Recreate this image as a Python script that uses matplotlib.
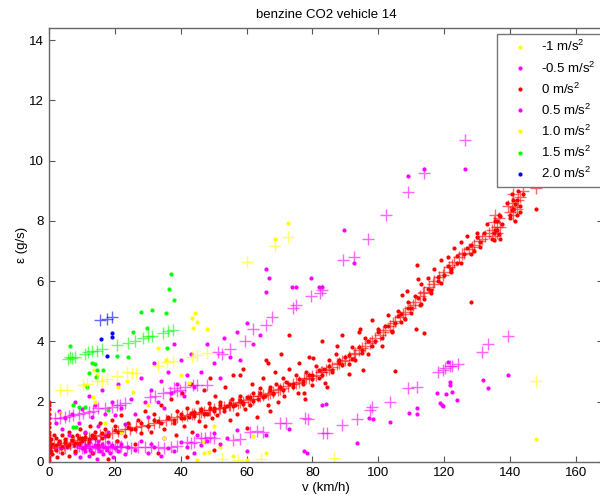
import matplotlib
matplotlib.use('Agg')
import matplotlib.pyplot as plt
import numpy as np

plt.rcParams['font.family'] = ['Liberation Sans', 'DejaVu Sans']
plt.rcParams['mathtext.fontset'] = 'custom'
plt.rcParams['mathtext.rm'] = 'Liberation Sans'
plt.rcParams['mathtext.default'] = 'regular'

# Data: (v km/h, emission g/s)
labels = ['-1 m/s$^2$', '-0.5 m/s$^2$', '0 m/s$^2$', '0.5 m/s$^2$',
          '1.0 m/s$^2$', '1.5 m/s$^2$', '2.0 m/s$^2$']
colors = ['#FFFF00', '#FF00FF', '#FF0000', '#FF00FF', '#FFFF00', '#00FF00', '#0000FF']

# a = -1 m/s2
dec1_dots = [(45, 0.05), (47, 0.3), (52, 0.5), (55.9, 0.2), (60, 0.05), (62, 0.85),
             (66, 0.3), (148, 0.76)]
dec1_plus = [(52.5, 0.1), (57.5, 0.08), (64.5, 0.1), (86.6, 0.12), (148, 2.68)]

# a = -0.5 m/s2
dec05_dots = [(8, 0.3), (9, 0.6), (9.5, 0.15), (10, 0.45), (10.5, 0.75), (11, 0.35), (11.5, 0.55),
              (12, 0.2), (12, 0.65), (12.5, 0.4), (13, 0.8), (13.5, 0.3), (14, 0.55), (14.5, 0.1),
              (15, 0.45), (15, 0.7), (15.5, 0.35), (16, 0.6), (16.5, 0.25), (17, 0.5), (17, 0.85),
              (17.5, 0.4), (18, 0.65), (18.5, 0.3), (19, 0.55), (19.5, 0.15), (20, 0.45), (20.5, 0.7),
              (21, 0.35), (22, 0.6), (23, 0.25), (24, 0.5), (26, 0.4), (28, 0.7), (30, 0.3),
              (31, 0.6), (32, 0.5), (34, 0.2), (35, 0.8), (36, 0.45), (38, 0.35), (40, 0.65),
              (42, 0.5), (44, 0.3), (45, 0.9), (46, 0.55), (48, 0.7), (50, 0.95), (52, 0.6),
              (54, 0.8), (57, 1.05), (60, 0.35), (66, 0.9), (73, 1.1), (77.4, 0.37), (78.4, 0.29),
              (83, 1.9), (84, 1.92), (93.6, 0.62), (97.2, 1.45), (98.4, 1.43), (103.5, 1.32),
              (109.3, 1.62), (111.8, 1.78), (111.8, 1.6), (117.8, 2.28), (118.7, 1.96), (119.3, 1.9),
              (119.7, 1.85), (120.5, 2.25), (121, 3.33), (121.7, 2.66), (121.8, 2.55), (122.3, 2.33),
              (123.9, 2.05), (131.7, 2.72), (133.3, 2.45), (139.3, 2.89)]
dec05_plus = [(3, 0.45), (5, 0.48), (8.5, 0.5), (9, 0.52), (10, 0.48), (10.5, 0.47), (11, 0.52),
              (12, 0.5), (12.5, 0.53), (13, 0.47), (14, 0.52), (14.5, 0.49), (15, 0.5), (16, 0.48),
              (16.5, 0.51), (17, 0.53), (18, 0.5), (18.5, 0.47), (19, 0.49), (20, 0.52), (20.5, 0.5),
              (21.5, 0.5), (22, 0.53), (23.6, 0.5), (25, 0.48), (27, 0.5), (29, 0.49), (31, 0.51),
              (33, 0.5), (35, 0.48), (37, 0.5), (38.8, 0.52), (42, 0.66), (43, 0.62), (44, 0.66),
              (46, 0.8), (47.5, 0.78), (49, 0.82), (50, 0.8), (56, 0.73), (58, 0.75), (61, 1.0),
              (63, 1.02), (65, 1.0), (70, 1.29), (72, 1.3), (77.7, 1.45), (78.5, 1.42), (83.3, 0.97),
              (84.3, 0.97), (88.9, 1.23), (93.6, 1.42), (97.4, 1.72), (98, 1.83), (103.5, 2.0),
              (109, 2.45), (111.8, 2.5), (118.2, 3.0), (119.5, 3.05), (120.2, 3.11), (121.7, 3.18),
              (122.5, 3.2), (124.2, 3.25), (131.5, 3.64), (133.3, 3.9), (139.3, 4.19)]

# a = 0 m/s2
cruise_dots = [(0, 0.05), (0, 0.15), (0, 0.3), (0, 0.4), (0, 0.6), (0, 0.7), (0, 0.8), (0, 0.9),
               (0, 1.0), (0, 1.15), (0, 1.3), (0, 1.45), (0, 1.6), (0, 1.75), (0, 1.9), (0, 2.0),
               (0.3, 0.5), (0.5, 0.35), (0.5, 0.75), (1, 0.25), (1, 0.6), (1.5, 0.9), (2, 0.4),
               (2, 0.8), (2.5, 0.15), (3, 0.7), (3.5, 0.45), (4, 0.9), (4, 0.3), (5, 0.75),
               (5.5, 0.5), (6, 0.2), (6, 1.0), (7, 0.85), (7.5, 0.55), (8, 0.35), (8.5, 0.9),
               (9, 0.6), (9.5, 1.1), (10, 0.8), (10.5, 0.45), (11, 0.95), (12, 0.65), (12.5, 1.2),
               (13, 0.3), (13.5, 0.85), (14, 1.0), (15, 0.55), (15.5, 1.3), (16, 0.8), (17, 1.1),
               (18, 0.1), (18, 0.9), (19, 1.4), (20, 1.2), (20.5, 0.7), (21, 1.0), (22, 1.55),
               (23, 0.85), (24, 1.3), (25, 1.1), (26, 0.6), (27, 1.4), (28, 0.95), (29, 1.7),
               (30, 1.2), (31, 1.0), (32, 1.6), (33, 0.3), (33, 1.35), (34, 1.9), (35, 1.1),
               (36, 1.5), (37, 2.1), (38, 1.3), (38.5, 0.9), (39, 1.7), (40, 1.45), (40.5, 2.3),
               (41, 1.2), (42, 1.8), (42, 0.17), (42.5, 1.5), (43, 2.6), (43.5, 1.0), (44, 1.65),
               (45, 2.0), (45.5, 1.35), (46, 1.75), (47, 2.4), (47.5, 1.2), (48, 1.6), (48.5, 1.95),
               (49, 2.8), (49.5, 1.45), (50, 1.8), (50, 0.4), (50.5, 2.2), (51, 1.55), (52, 2.0),
               (53, 1.7), (53.5, 2.5), (54, 1.85), (55, 1.4), (55.5, 2.1), (56, 2.9), (56.5, 1.9),
               (57, 1.6), (58, 2.2), (58, 2.9), (58.5, 2.0), (59, 3.1), (59.5, 1.75), (60, 2.15),
               (60, 1.13), (61, 1.9), (61.5, 2.6), (62, 2.3), (63, 1.5), (63.5, 2.1), (64, 2.45),
               (65, 2.8), (65.5, 2.2), (66, 3.4), (66.5, 1.9), (66.5, 3.3), (67, 2.5), (67, 1.7),
               (68, 2.3), (68.5, 3.0), (69, 2.6), (69.5, 2.0), (70, 2.5), (70.5, 3.6), (71, 2.8),
               (71.5, 2.2), (72, 2.65), (73, 4.2), (73, 3.1), (74, 2.6), (75, 2.9), (75.5, 2.3),
               (76, 3.3), (77, 2.7), (77.4, 2.3), (77.7, 2.1), (78, 3.0), (79, 3.5), (79.8, 2.55),
               (80, 2.9), (80.2, 3.45), (81, 3.2), (82, 2.8), (82.9, 4.01), (83.5, 3.1), (83.8, 2.62),
               (84.4, 2.5), (85, 3.4), (86, 3.0), (87, 3.6), (87.4, 3.85), (88, 3.3), (89, 4.2),
               (90, 3.5), (91, 2.92), (91, 3.25), (92, 3.8), (93, 3.4), (94, 4.3), (94.4, 4.41),
               (95, 3.7), (95.3, 3.05), (96, 4.1), (97, 3.6), (98, 4.71), (99, 4.0), (100, 4.4),
               (101, 3.85), (102, 4.5), (103, 4.88), (104, 4.3), (105, 3.02), (105, 4.6), (106, 5.01),
               (107, 4.9), (107.2, 5.54), (108, 4.75), (108.7, 5.67), (109, 5.3), (110, 5.1),
               (111, 5.5), (111.4, 4.4), (111.6, 6.54), (112, 6.07), (112.5, 5.2), (113, 5.9),
               (114, 5.4), (114, 4.28), (115, 6.1), (116, 5.7), (117, 6.4), (118, 6.0), (119, 6.7),
               (120, 6.2), (121, 6.8), (122, 6.4), (123, 7.1), (124, 6.6), (125, 7.3), (126, 6.9),
               (127, 7.5), (128, 5.3), (128, 7.2), (129, 7.0), (130, 7.6), (131, 7.3), (133, 7.9),
               (134.5, 7.4), (135, 7.6), (135.5, 8.0), (136, 7.7), (136.5, 8.2), (137, 7.4),
               (137.5, 7.9), (139, 8.6), (140, 8.2), (140.5, 8.9), (141, 8.4), (141.5, 8.0),
               (142, 8.7), (143, 8.3), (144, 8.9), (145, 9.2), (148, 8.4),
               # tight band along the trend
               (2, 0.55), (3, 0.62), (4, 0.5), (5, 0.68), (6, 0.58), (7, 0.72), (8, 0.62), (9, 0.8),
               (10, 0.7), (11, 0.82), (12, 0.76), (13, 0.9), (14, 0.8), (16, 0.95), (18, 0.85),
               (20, 1.05), (22, 0.98), (24, 1.15), (26, 1.08), (28, 1.28), (30, 1.18), (32, 1.38),
               (34, 1.3), (36, 1.45), (38, 1.38), (40, 1.58), (41, 1.45), (43, 1.62), (44, 1.52),
               (46, 1.72), (47, 1.6), (49, 1.78), (50, 1.68), (52, 1.88), (53, 1.78), (55, 1.95),
               (56, 1.85), (58, 2.05), (59, 1.92), (61, 2.15), (62, 2.02), (64, 2.28), (65, 2.15),
               (67, 2.38), (68, 2.25), (70, 2.5), (71, 2.38), (73, 2.6), (74, 2.5), (76, 2.75),
               (77, 2.6), (79, 2.9), (80, 2.75), (82, 3.05), (83, 2.9), (85, 3.2), (86, 3.05),
               (88, 3.38), (89, 3.22), (91, 3.55), (92, 3.42), (94, 3.8), (95, 3.62), (97, 4.0),
               (98, 3.85), (100, 4.3), (101, 4.1), (103, 4.5), (104, 4.35), (106, 4.85), (107, 4.65),
               (109, 5.1), (110, 4.95), (112, 5.45), (113, 5.25), (115, 5.75), (116, 5.6), (118, 6.15),
               (119, 5.95), (121, 6.5), (122, 6.3), (124, 6.85), (125, 6.6), (127, 7.1), (128, 6.9),
               (130, 7.45), (131, 7.15), (132, 7.6), (135, 7.35), (135.5, 7.7), (136, 8.0),
               (136.5, 7.55), (137, 8.15), (140, 8.1), (140.5, 8.35), (141, 8.7), (141.5, 8.55),
               (142, 8.2), (142.5, 9.0), (143, 8.5)]
cruise_plus = [(0, 0.45), (0, 0.6), (0.5, 0.52), (1.5, 0.55), (2.5, 0.5), (3.5, 0.58), (4.5, 0.55),
               (5.5, 0.62), (6.5, 0.6), (7.5, 0.68), (8.5, 0.66), (9.5, 0.72), (11, 0.74), (12, 0.8),
               (14, 0.86), (15.5, 0.88), (17, 0.93), (19, 0.96), (21, 1.02), (23, 1.08), (24.5, 1.1),
               (26.5, 1.16), (28, 1.2), (30, 1.24), (32, 1.31), (33.5, 1.34), (35.5, 1.4), (37, 1.43),
               (39, 1.48), (40.5, 1.52), (42, 1.55), (43.5, 1.58), (44, 1.6), (45.5, 1.64), (46, 1.66),
               (47, 1.67), (48.5, 1.72), (49, 1.74), (50, 1.76), (51.5, 1.78), (52, 1.8), (53, 1.84),
               (54.5, 1.88), (55, 1.9), (56, 1.9), (57.5, 1.96), (58, 1.98), (59, 2.0), (60.5, 2.06),
               (61, 2.08), (62, 2.1), (63.5, 2.18), (64, 2.2), (65, 2.22), (66.5, 2.27), (67, 2.3),
               (68, 2.32), (69.5, 2.38), (70, 2.42), (71, 2.45), (72.5, 2.52), (74, 2.6), (75, 2.62),
               (76, 2.66), (77.5, 2.74), (78, 2.78), (79, 2.8), (80, 2.85), (81, 2.9), (82.5, 2.98),
               (83, 3.0), (84, 3.05), (85, 3.1), (86, 3.16), (87.5, 3.25), (88, 3.3), (89, 3.35),
               (90, 3.4), (91, 3.47), (92.5, 3.58), (93, 3.62), (94, 3.7), (95, 3.78), (96, 3.85),
               (97.5, 3.96), (98, 4.0), (99, 4.1), (100.5, 4.22), (101.5, 4.3), (102, 4.37),
               (103.5, 4.5), (104.5, 4.6), (105, 4.68), (106.5, 4.82), (107.5, 4.9), (108, 4.97),
               (109.5, 5.12), (110.5, 5.2), (111, 5.3), (112.5, 5.5), (113.5, 5.6), (114, 5.65),
               (115.5, 5.82), (116.5, 5.9), (117, 6.0), (118.5, 6.15), (119.5, 6.2), (120, 6.32),
               (121.5, 6.48), (122.5, 6.55), (123, 6.62), (124.5, 6.8), (125.5, 6.9), (126, 6.95),
               (127.5, 7.08), (128.5, 7.15), (129, 7.2), (130.5, 7.32), (131.5, 7.4), (132.5, 7.5),
               (133.5, 7.6), (134.5, 7.7), (135, 7.95), (135.5, 8.2), (135.5, 7.5), (136, 7.6),
               (136, 7.8), (136.5, 8.1), (137, 7.8), (139.5, 8.5), (140, 8.3), (140.5, 8.6),
               (141, 8.9), (141, 8.2), (141.5, 8.45), (142, 8.4), (142.5, 8.7), (143, 8.8),
               (144, 9.0), (148, 9.1)]

# a = 0.5 m/s2
acc05_dots = [(2, 1.3), (3, 1.7), (4, 1.1), (5, 1.45), (6, 0.9), (7, 1.6), (8, 2.0), (9, 1.3),
              (10, 1.75), (11, 1.0), (12, 2.2), (13, 1.5), (14, 1.9), (15, 1.2), (16, 2.4), (17, 1.6),
              (18, 1.0), (19, 2.0), (20, 1.55), (21, 2.6), (22, 1.8), (23, 1.25), (25, 2.1), (26, 1.6),
              (28, 2.8), (29, 2.0), (30, 1.5), (31, 2.4), (32, 3.3), (33, 2.0), (34, 2.7), (35, 1.8),
              (36, 3.0), (37, 2.3), (38, 3.9), (39, 2.6), (40, 3.4), (41, 2.2), (42, 2.9), (43, 3.6),
              (44, 2.5), (46, 3.0), (48, 3.9), (50, 3.3), (52, 2.8), (53, 4.1), (55, 3.5), (57, 4.3),
              (58, 3.4), (60, 4.6), (62, 3.9), (64, 4.2), (66, 6.4), (66.8, 6.1), (65.9, 5.65),
              (73.8, 5.8), (75, 5.8), (79.5, 6.1), (82, 5.8), (83, 5.8), (89.6, 7.7), (92.6, 6.6),
              (108.9, 9.5), (113.8, 9.73), (126.3, 9.73)]
acc05_plus = [(1.8, 1.46), (3.3, 1.46), (5, 1.5), (6, 1.52), (7.3, 1.56), (9, 1.58), (10.3, 1.62),
              (12, 1.66), (13.5, 1.7), (15, 1.78), (17, 1.8), (19, 1.83), (20.5, 1.88), (21.6, 1.9),
              (23, 1.95), (30.7, 2.16), (32.2, 2.2), (34.6, 2.28), (36.7, 2.32), (38.8, 2.36),
              (37.8, 2.45), (39.8, 2.4), (41.3, 2.48), (43.7, 2.55), (45, 2.55), (48, 2.55),
              (51.3, 3.65), (52.5, 3.6), (55, 3.75), (59.5, 4.0), (62, 4.4), (66, 4.55), (67.7, 4.8),
              (74, 5.1), (75, 5.2), (79.5, 5.5), (82.3, 5.6), (83, 5.7), (89.4, 6.7), (92.6, 6.8),
              (97, 7.4), (102.3, 8.2), (108.9, 8.95), (113.8, 9.6), (126.3, 10.7)]

# a = 1.0 m/s2
acc10_dots = [(3.3, 1.63), (10.9, 2.55), (13.4, 2.17), (13.7, 3.05), (14, 2.0), (14.6, 2.88),
              (17, 1.3), (21, 2.49), (22, 1.0), (23.6, 2.69), (25.5, 2.33), (30, 1.9), (33.2, 3.78),
              (35, 0.8), (35.5, 3.38), (40, 2.9), (42.5, 2.63), (43.4, 4.78), (43.7, 4.45),
              (44.4, 4.95), (44.9, 4.65), (46.8, 0.66), (48, 4.4), (48.6, 0.33), (50, 1.2),
              (68.6, 7.4), (72.5, 7.93)]
acc10_plus = [(3.3, 2.39), (5.5, 2.4), (10.4, 2.55), (11.5, 2.6), (14.5, 2.69), (16, 2.69),
              (17.5, 2.75), (20.6, 2.86), (23.6, 2.98), (25.1, 2.95), (26.5, 2.95), (33.2, 3.19),
              (35.7, 3.32), (37.7, 3.35), (43.3, 3.49), (44.8, 3.55), (47.9, 3.62), (60, 6.65),
              (68.6, 7.17), (72.5, 7.46)]

# a = 1.5 m/s2
acc15_dots = [(6.4, 3.85), (7.2, 1.9), (7.3, 1.16), (8.2, 1.16), (9.1, 1.83), (11, 1.83),
              (11.5, 2.5), (12.2, 2.95), (13, 3.28), (14, 3.24), (14.3, 2.83), (14.6, 3.05),
              (16.3, 3.05), (18, 1.72), (20.6, 3.52), (23.9, 3.48), (25.6, 4.3), (27.8, 4.98),
              (29.9, 4.45), (31.3, 5.04), (35.4, 4.94), (35.7, 3.78), (36.5, 5.74), (37, 6.24),
              (38, 5.38)]
acc15_plus = [(5.8, 3.41), (6.4, 3.49), (7, 3.45), (8, 3.48), (11, 3.6), (11.8, 3.66), (13, 3.68),
              (14.5, 3.69), (16, 3.75), (20.6, 3.88), (24, 3.94), (26, 4.02), (28.6, 4.1),
              (30, 4.18), (31.2, 4.18), (34.6, 4.28), (36.2, 4.33), (37.7, 4.38)]

# a = 2.0 m/s2
acc20_dots = [(15.7, 4.08), (17.7, 3.52), (19, 4.28), (19, 4.15)]
acc20_plus = [(15.5, 4.71), (17.5, 4.74), (19, 4.8)]

dot_sets = [dec1_dots, dec05_dots, cruise_dots, acc05_dots, acc10_dots, acc15_dots, acc20_dots]
plus_sets = [dec1_plus, dec05_plus, cruise_plus, acc05_plus, acc10_plus, acc15_plus, acc20_plus]

fig = plt.figure(figsize=(6, 5.01), dpi=100)
ax = fig.add_axes([49/600, 39/501, 554/600, 434/501])

# measured points (these carry the legend)
for pts, c, lab in zip(dot_sets, colors, labels):
    v, e = np.array(pts).T
    ax.plot(v, e, '.', color=c, ms=4, label=lab)

# binned / modelled points
for pts, c in zip(plus_sets, colors):
    v, e = np.array(pts).T
    ax.plot(v, e, '+', color=c, ms=8.5, mew=1, alpha=0.6)

ax.set_xlim(0, 168.2)
ax.set_ylim(0, 14.4)
ax.set_xticks(np.arange(0, 161, 20))
ax.set_yticks(np.arange(0, 15, 2))
ax.tick_params(direction='in', top=True, right=True, length=4, labelsize=9.5,
               color='#555555', width=0.8)
for s in ax.spines.values():
    s.set_color('#666666')
    s.set_linewidth(1)

ax.set_title('benzine CO2 vehicle 14', fontsize=9.5, pad=7)
ax.set_xlabel('v (km/h)', fontsize=9.5, labelpad=2)
ax.set_ylabel('\u03b5 (g/s)', fontsize=9.5, labelpad=1)

ax.legend(loc='upper left', bbox_to_anchor=(497/600, 1 - 34/501), bbox_transform=fig.transFigure,
          fontsize=9.5, frameon=True, fancybox=False, edgecolor='#777777', framealpha=1,
          handlelength=2.7, handletextpad=0.25, borderpad=0.4, labelspacing=0.45,
          markerscale=1, borderaxespad=0)

fig.savefig('out.png', dpi=100)
